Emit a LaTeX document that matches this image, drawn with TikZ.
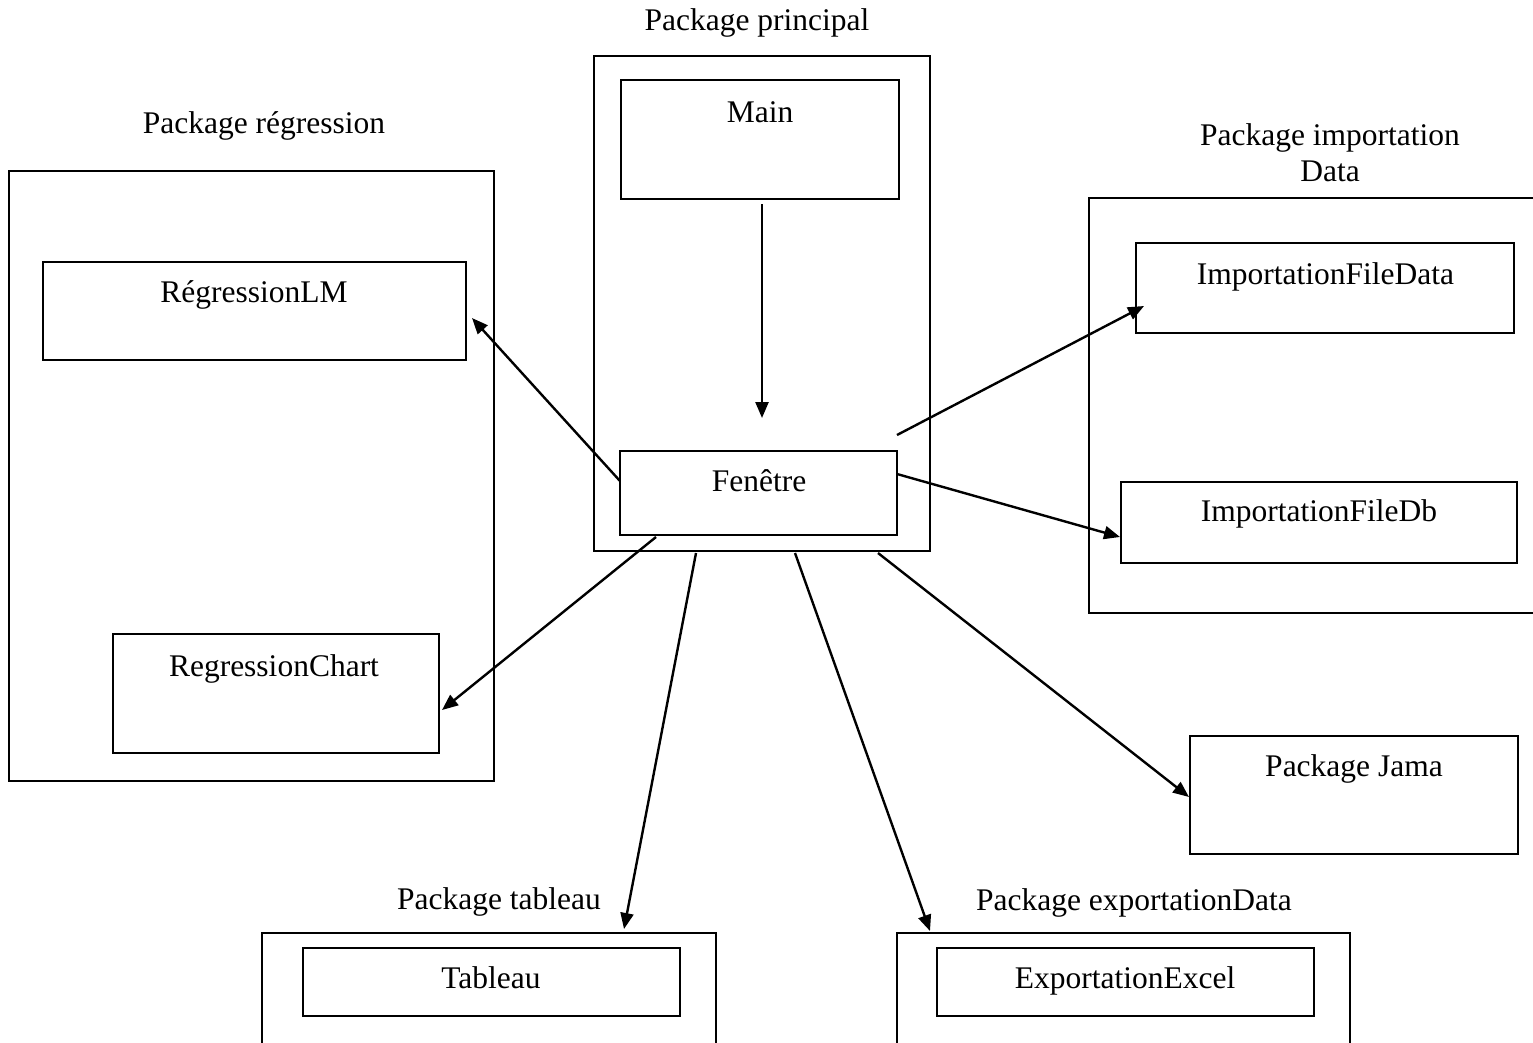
\documentclass[tikz,border=0pt]{standalone}
\usepackage{fontspec}
\setmainfont{Liberation Serif}
\usetikzlibrary{arrows.meta}
\begin{document}
\begin{tikzpicture}[x=1pt,y=-1pt,
  box/.style={draw, line width=2.6pt, inner sep=0pt, outer sep=0pt, fill=none},
  txt/.style={inner sep=0pt, anchor=base, font=\fontsize{31.5}{36}\selectfont},
  arr/.style={line width=2.4pt, -{Triangle[length=16pt,width=13pt]}}]
\clip (0,0) rectangle (1533,1042);
\fill[white] (0,0) rectangle (1533,1042);
% Package principal
\node[txt] (lprin) at (757,30) {Package principal};
\node[box, minimum width=336pt, minimum height=495pt] (prin) at (762,303.5) {};
\node[box, minimum width=278pt, minimum height=119pt] (main) at (760,139.5) {};
\node[txt] (tmain) at (760,122) {Main};
\node[box, minimum width=277pt, minimum height=84pt] (fen) at (758.5,493) {};
\node[txt] (tfen) at (759,491.5) {Fenêtre};
% Package regression
\node[txt] (lreg) at (264,133) {Package régression};
\node[box, minimum width=485pt, minimum height=610pt] (reg) at (251.5,476) {};
\node[box, minimum width=423pt, minimum height=98pt] (reglm) at (254.5,311) {};
\node[txt] (treglm) at (254,302.5) {RégressionLM};
\node[box, minimum width=326pt, minimum height=119pt] (regch) at (276,693.5) {};
\node[txt] (tregch) at (274,676) {RegressionChart};
% Package importation Data
\node[txt] (limp1) at (1330,145.5) {Package importation};
\node[txt] (limp2) at (1330,181) {Data};
\node[box, minimum width=471pt, minimum height=415pt] (imp) at (1324.5,405.5) {};
\node[box, minimum width=378pt, minimum height=90pt] (ifd) at (1325,288) {};
\node[txt] (tifd) at (1325.5,284) {ImportationFileData};
\node[box, minimum width=396pt, minimum height=81pt] (ifdb) at (1319,522.5) {};
\node[txt] (tifdb) at (1319,521.5) {ImportationFileDb};
% Package Jama
\node[box, minimum width=328pt, minimum height=118pt] (jama) at (1354,795) {};
\node[txt] (tjama) at (1354,776.5) {Package Jama};
% Package tableau
\node[txt] (ltab) at (499,909) {Package tableau};
\node[box, minimum width=454pt, minimum height=147pt] (tab) at (489,1006.5) {};
\node[box, minimum width=377pt, minimum height=68pt] (tabl) at (491.5,982) {};
\node[txt] (ttabl) at (491,988) {Tableau};
% Package exportationData
\node[txt] (lexp) at (1134,910) {Package exportationData};
\node[box, minimum width=453pt, minimum height=147pt] (exp) at (1123.5,1006.5) {};
\node[box, minimum width=377pt, minimum height=68pt] (expx) at (1125.5,982) {};
\node[txt] (texpx) at (1125,988) {ExportationExcel};
% connector ends
\coordinate (m1) at (762,204);
\coordinate (m2) at (762,418);
\coordinate (r1) at (620,481);
\coordinate (r2) at (472,318);
\coordinate (c1) at (656,537);
\coordinate (c2) at (442,710);
\coordinate (t1) at (696,553);
\coordinate (t2) at (624,929);
\coordinate (e1) at (795,553);
\coordinate (e2) at (930,931);
\coordinate (j1) at (878,553);
\coordinate (j2) at (1189,797);
\coordinate (i1) at (897,435);
\coordinate (i2) at (1144,306);
\coordinate (d1) at (897,474);
\coordinate (d2) at (1120,537);
\draw[arr] (m1) -- (m2);
\draw[arr] (r1) -- (r2);
\draw[arr] (c1) -- (c2);
\draw[arr] (t1) -- (t2);
\draw[arr] (e1) -- (e2);
\draw[arr] (j1) -- (j2);
\draw[arr] (i1) -- (i2);
\draw[arr] (d1) -- (d2);
\end{tikzpicture}
\end{document}
